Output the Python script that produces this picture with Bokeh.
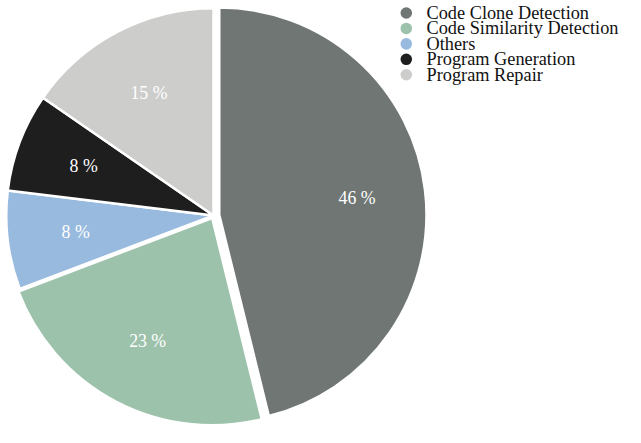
import math
from bokeh.plotting import figure
from bokeh.models import Range1d, ColumnDataSource
from bokeh.core.properties import value
from bokeh.embed import file_html
from bokeh.resources import INLINE

categories = ["Code Clone Detection", "Code Similarity Detection", "Others",
              "Program Generation", "Program Repair"]
counts = [6, 3, 1, 1, 2]
colors = ["#6f7673", "#9dc2ab", "#98bade", "#1e1e1e", "#cdcdcb"]
explode_px = [6, 3, 0, 0, 0]

W, H = 625, 427
S = H / 443.0          # scale from a 641x443 layout onto the figure
FONT = "Liberation Serif"

p = figure(width=W, height=H, output_backend="svg", toolbar_location=None,
           x_range=Range1d(0, W), y_range=Range1d(0, H),
           min_border=0, outline_line_color=None)
p.axis.visible = False
p.grid.visible = False
p.background_fill_color = None
p.border_fill_color = "white"


def X(px):
    return px * S


def Y(py):
    return H - py * S


cx, cy = X(221), Y(223)
r = 215 * S
total = sum(counts)
xs, ys, starts, ends, lx, ly, labels = [], [], [], [], [], [], []
cum = 0.0
for c, e in zip(counts, explode_px):
    f0 = cum / total
    cum += c
    f1 = cum / total
    a0 = math.pi / 2 - 2 * math.pi * f0
    a1 = math.pi / 2 - 2 * math.pi * f1
    mid = (a0 + a1) / 2
    ox, oy = cx + e * S * math.cos(mid), cy + e * S * math.sin(mid)
    xs.append(ox); ys.append(oy)
    starts.append(a0); ends.append(a1)
    lx.append(ox + 0.67 * r * math.cos(mid))
    ly.append(oy + 0.67 * r * math.sin(mid))
    labels.append(f"{round(100 * c / total)} %")

src = ColumnDataSource(dict(x=xs, y=ys, s=starts, e=ends, color=colors,
                            lx=lx, ly=ly, label=labels, cat=categories))
p.wedge(x="x", y="y", radius=r, start_angle="s", end_angle="e",
        direction="clock", fill_color="color", line_color="white",
        line_width=2.5, source=src)
p.text(x="lx", y="ly", text="label", text_color="white",
       text_font=value(FONT), text_font_size=f"{18.5 * S:.1f}px",
       text_align="center", text_baseline="middle", source=src)

# legend
n = len(categories)
leg_x = [X(421)] * n
leg_y = [Y(13 + 16 * i) for i in range(n)]
lsrc = ColumnDataSource(dict(x=leg_x, y=leg_y, tx=[X(442)] * n,
                             cat=categories, color=colors))
p.scatter(x="x", y="y", size=12 * S, marker="circle", fill_color="color",
          line_color=None, source=lsrc)
p.text(x="tx", y="y", text="cat", text_color="#111111",
       text_font=value(FONT), text_font_size=f"{19 * S:.1f}px",
       text_align="left", text_baseline="middle", source=lsrc)

open("out.html", "w").write(file_html(p, INLINE))
